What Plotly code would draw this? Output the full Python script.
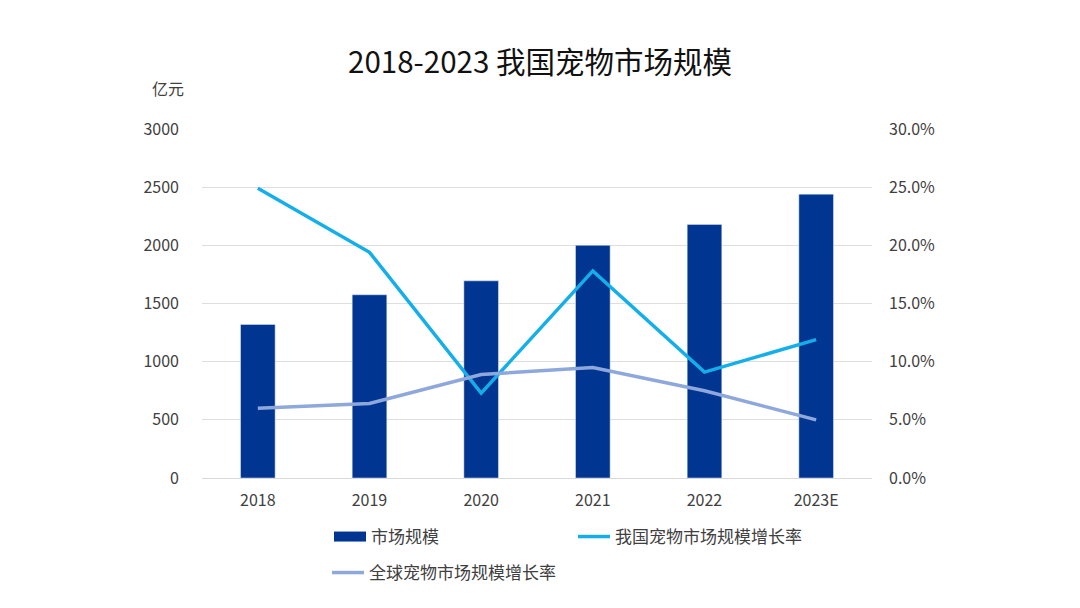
import plotly.graph_objects as go

years = ["2018", "2019", "2020", "2021", "2022", "2023E"]
market_size = [1320, 1575, 1695, 2000, 2180, 2440]
china_growth = [0.249, 0.194, 0.073, 0.178, 0.091, 0.119]
global_growth = [0.060, 0.064, 0.089, 0.095, 0.075, 0.050]

FONT = "Noto Sans CJK SC"
W, H = 1080, 608
OFF = 8  # page body margin offset in the screenshot
ML, MR, MT, MB = 202 - OFF, 208 + OFF, 129 - OFF, 130 + OFF
PW, PH = W - ML - MR, H - MT - MB
BAR_COLOR = "#003591"

fig = go.Figure()
fig.add_trace(go.Bar(x=years, y=market_size, name="市场规模", marker_color=BAR_COLOR,
                     width=0.31, showlegend=False))
# legend-only entry with a wide rectangular swatch for the bar series
fig.add_trace(go.Scatter(x=[None], y=[None], name="市场规模", mode="lines",
                         line=dict(color=BAR_COLOR, width=10), legend="legend"))
fig.add_trace(go.Scatter(x=years, y=china_growth, name="我国宠物市场规模增长率", mode="lines",
                         line=dict(color="#14AFEA", width=3.5), yaxis="y2", legend="legend"))
fig.add_trace(go.Scatter(x=years, y=global_growth, name="全球宠物市场规模增长率", mode="lines",
                         line=dict(color="#8FA8DC", width=3.5), yaxis="y2", legend="legend2"))

def px_x(p):
    return (p - OFF - ML) / PW

def px_y(p):
    return (H - MB - (p - OFF)) / PH

TICK = dict(size=16, color="#404040", family=FONT)

fig.update_layout(
    width=W, height=H,
    margin=dict(l=ML, r=MR, t=MT, b=MB, autoexpand=False),
    paper_bgcolor="white", plot_bgcolor="white",
    font=dict(family=FONT, color="#404040", size=16),
    title=dict(text="2018-2023 我国宠物市场规模", x=px_x(540), xref="paper", y=1 - 55 / H,
               xanchor="center", yanchor="middle",
               font=dict(family=FONT, size=29.5, color="#111111")),
    xaxis=dict(showgrid=False, showline=True, linecolor="#d9d9d9", ticks="", ticklabelstandoff=8,
               tickfont=TICK),
    yaxis=dict(range=[0, 3000], dtick=500, showgrid=True, gridcolor="#dedede", gridwidth=1,
               zeroline=False, ticks="", ticklabelstandoff=22, tickfont=TICK),
    yaxis2=dict(range=[0, 0.30], dtick=0.05, tickformat=".1%", overlaying="y", side="right",
                showgrid=False, zeroline=False, ticks="", ticklabelstandoff=16, tickfont=TICK),
    legend=dict(orientation="h", x=px_x(329), xanchor="left", y=px_y(537), yanchor="middle",
                entrywidth=197, entrywidthmode="pixels", itemwidth=32, traceorder="normal",
                font=dict(family=FONT, size=17, color="#404040"), bgcolor="rgba(0,0,0,0)"),
    legend2=dict(orientation="h", x=px_x(327), xanchor="left", y=px_y(573), yanchor="middle",
                 itemwidth=32, font=dict(family=FONT, size=17, color="#404040"),
                 bgcolor="rgba(0,0,0,0)"),
    annotations=[dict(text="亿元", xref="paper", yref="paper", x=px_x(168), y=px_y(88),
                      xanchor="center", yanchor="middle", showarrow=False,
                      font=dict(family=FONT, size=16, color="#404040"))],
)

fig.write_html("out.html")
